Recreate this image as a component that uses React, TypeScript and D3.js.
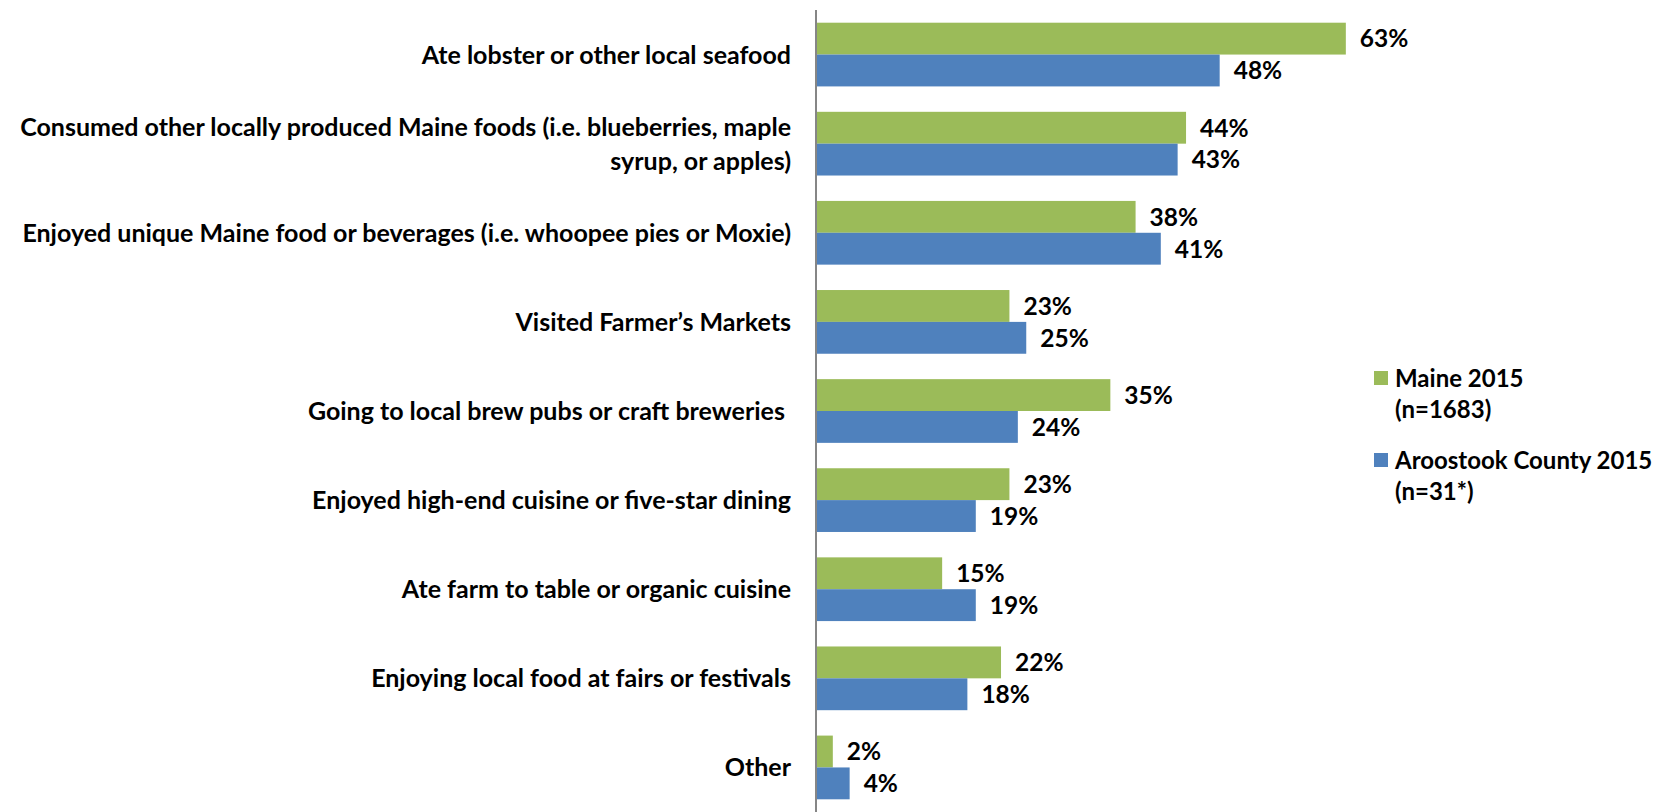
import React from "react";
import * as d3 from "d3";

const categories = [
  "Ate lobster or other local seafood",
  "Consumed other locally produced Maine foods (i.e. blueberries, maple\nsyrup, or apples)",
  "Enjoyed unique Maine food or beverages (i.e. whoopee pies or Moxie)",
  "Visited Farmer\u2019s Markets",
  "Going to local brew pubs or craft breweries ",
  "Enjoyed high-end cuisine or five-star dining",
  "Ate farm to table or organic cuisine",
  "Enjoying local food at fairs or festivals",
  "Other",
];
const maine2015 = [63, 44, 38, 23, 35, 23, 15, 22, 2];
const aroostook2015 = [48, 43, 41, 25, 24, 19, 19, 18, 4];
const seriesNames = ["Maine 2015\n(n=1683)", "Aroostook County 2015\n(n=31*)"];
const seriesColors = ["#9BBB59", "#4F81BD"];

const W = 1662;
const H = 812;
const FONT = "Lato, 'Open Sans', sans-serif";

export default function App() {
  const x = d3.scaleLinear().domain([0, 100]).range([816, 1657]);
  const y = d3
    .scaleBand<string>()
    .domain(categories)
    .range([10, 812])
    .paddingInner(0.285)
    .paddingOuter(0.1425);
  const series = [maine2015, aroostook2015];
  const sub = d3
    .scaleBand<number>()
    .domain([0, 1])
    .range([0, y.bandwidth()]);
  const fsCat = 25;
  const fsVal = 24.5;
  const fsLeg = 24;

  return (
    <svg
      width={W}
      height={H}
      style={{ position: "absolute", left: 0, top: 0, background: "#fff" }}
      fontFamily={FONT}
      fontWeight={700}
    >
      {categories.map((c, i) => {
        const y0 = y(c)!;
        const cy = y0 + y.bandwidth() / 2;
        const lines = c.split("\n");
        const lh = 34;
        return (
          <g key={c}>
            {series.map((s, si) => {
              const by = y0 + sub(si)!;
              return (
                <g key={si}>
                  <rect
                    x={x(0)}
                    y={by}
                    width={x(s[i]) - x(0)}
                    height={sub.bandwidth()}
                    fill={seriesColors[si]}
                  />
                  <text
                    x={x(s[i]) + 14}
                    y={by + sub.bandwidth() / 2}
                    dy="0.36em"
                    fontSize={fsVal}
                    fill="#000"
                  >
                    {s[i] + "%"}
                  </text>
                </g>
              );
            })}
            {lines.map((ln, li) => (
              <text
                key={li}
                x={791}
                y={cy + (li - (lines.length - 1) / 2) * lh}
                dy="0.36em"
                textAnchor="end"
                fontSize={fsCat}
                fill="#000"
                style={{ whiteSpace: "pre" }}
              >
                {ln}
              </text>
            ))}
          </g>
        );
      })}
      <line x1={x(0)} x2={x(0)} y1={10} y2={812} stroke="#868686" strokeWidth={2} />
      {seriesNames.map((n, si) => {
        const ly = [378, 460][si];
        return (
          <g key={n}>
            <rect x={1374} y={ly - 7} width={14} height={14} fill={seriesColors[si]} />
            {n.split("\n").map((ln, li) => (
              <text key={li} x={1395} y={ly + li * 31} dy="0.36em" fontSize={fsLeg} fill="#000">
                {ln}
              </text>
            ))}
          </g>
        );
      })}
    </svg>
  );
}
